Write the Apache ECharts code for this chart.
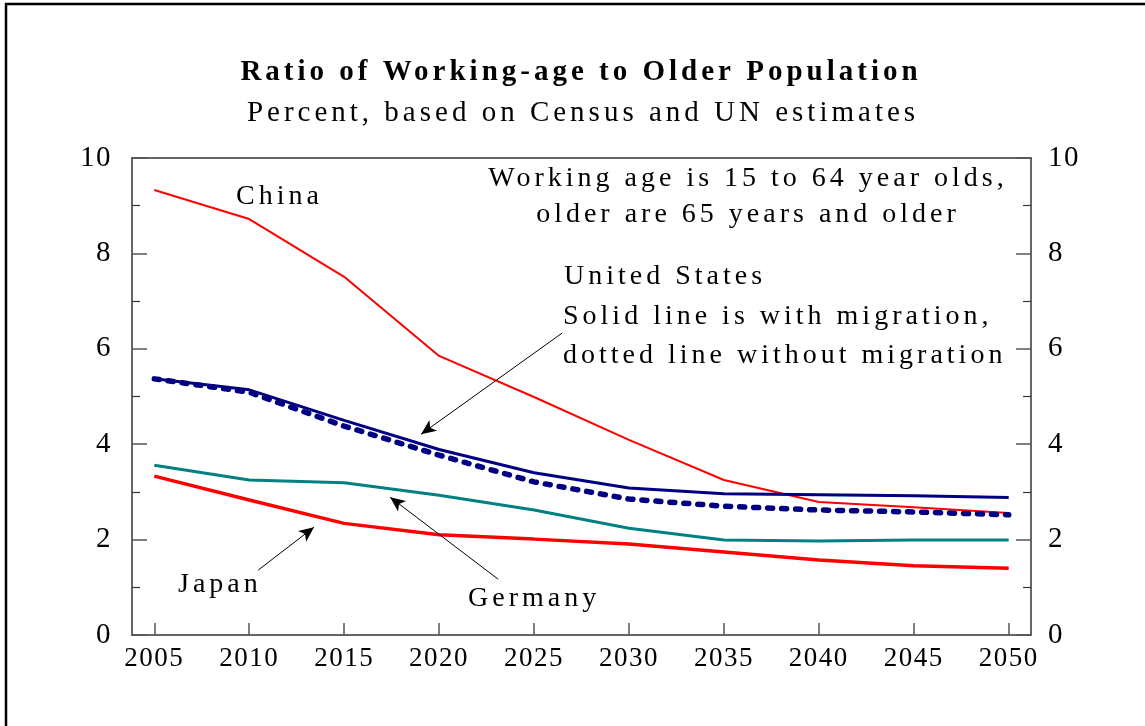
<!DOCTYPE html>
<html>
<head>
<meta charset="utf-8">
<script src="https://cdn.jsdelivr.net/npm/echarts@6/dist/echarts.min.js"></script>
<style>
  html, body { margin: 0; padding: 0; background: #fff; }
  #chart { width: 1145px; height: 726px; }
</style>
</head>
<body>
<div id="chart"></div>
<script>
// data
var years = [2005, 2010, 2015, 2020, 2025, 2030, 2035, 2040, 2045, 2050];
var china = [9.33, 8.72, 7.51, 5.85, 4.99, 4.09, 3.25, 2.79, 2.68, 2.56];
var usWithMigration = [5.37, 5.14, 4.50, 3.89, 3.40, 3.08, 2.96, 2.94, 2.92, 2.88];
var usWithoutMigration = [5.37, 5.09, 4.38, 3.77, 3.21, 2.85, 2.70, 2.62, 2.58, 2.52];
var germany = [3.56, 3.25, 3.19, 2.93, 2.62, 2.24, 1.99, 1.97, 1.99, 1.99];
var japan = [3.33, 2.83, 2.34, 2.10, 2.01, 1.91, 1.74, 1.57, 1.45, 1.40];

// arrows: [from, to] in (year, ratio)
var arrows = [
    [[2026.48, 6.33], [2019.05, 4.21]],  // United States
    [[2010.47, 1.36], [2013.41, 2.26]],  // Japan
    [[2023.11, 1.17], [2017.42, 2.89]]   // Germany
];

var serif = '"Liberation Serif", "Times New Roman", serif';

function pairs(vals) {
    return years.map(function (y, i) { return [y, vals[i]]; });
}

// annotation texts live on zlevel 1 so they get their own (wider) letter spacing
function label(text, x, y, opts) {
    opts = opts || {};
    return {
        type: 'text',
        zlevel: 1,
        x: x,
        y: y,
        silent: true,
        style: {
            text: text,
            fill: '#000',
            font: (opts.bold ? 'bold ' : '') + (opts.size || 28) + 'px ' + serif,
            textAlign: opts.align || 'left',
            textVerticalAlign: 'middle'
        }
    };
}

var chart = echarts.init(document.getElementById('chart'), null, { renderer: 'canvas' });

// the original is typeset with wide tracking
try {
    var painter = chart.getZr().painter;
    painter.getLayer(0).dom.getContext('2d').letterSpacing = '1.5px';
    painter.getLayer(1).dom.getContext('2d').letterSpacing = '4px';
} catch (e) {
    console.log('no letter spacing', e);
}

var frameAxis = {
    type: 'value', min: 0, max: 1, gridIndex: 0,
    axisLine: { show: true, onZero: false, lineStyle: { color: '#333', width: 1.5 } },
    axisTick: { show: false }, axisLabel: { show: false }, splitLine: { show: false }
};

var yFrame = function (pos, margin) {
    return {
        type: 'value', gridIndex: 0, position: pos,
        min: 0, max: 10, interval: 2,
        axisLine: { show: true, onZero: false, lineStyle: { color: '#333', width: 1.5 } },
        axisTick: { show: true, inside: true, length: 15, lineStyle: { color: '#555', width: 1.5 } },
        minorTick: { show: true, splitNumber: 2, length: 8, lineStyle: { color: '#333', width: 1.2 } },
        axisLabel: { color: '#000', fontFamily: serif, fontSize: 29, margin: margin, padding: [8, 0, 0, 0] },
        splitLine: { show: false }
    };
};

var lineSeries = function (name, vals, color, width, type) {
    return {
        name: name,
        type: 'line',
        xAxisIndex: 2,
        yAxisIndex: 2,
        data: pairs(vals),
        symbol: 'none',
        silent: true,
        lineStyle: { color: color, width: width, type: type || 'solid', cap: type ? 'round' : 'butt' }
    };
};

var option = {
    animation: false,
    backgroundColor: '#fff',
    grid: [
        { left: 132, right: 114, top: 158, bottom: 91 },
        { left: 154.3, right: 136.3, top: 158, bottom: 91 }
    ],
    xAxis: [
        Object.assign({}, frameAxis, { position: 'bottom' }),
        Object.assign({}, frameAxis, { position: 'top' }),
        {
            type: 'value', gridIndex: 1, position: 'bottom',
            min: 2005, max: 2050, interval: 5,
            axisLine: { show: false, onZero: false },
            axisTick: { show: true, inside: true, length: 12, lineStyle: { color: '#555', width: 1.5 } },
            axisLabel: {
                color: '#000', fontFamily: serif, fontSize: 27, margin: 10,
                formatter: function (v) { return String(v); }
            },
            splitLine: { show: false }
        }
    ],
    yAxis: [
        yFrame('left', 20),
        yFrame('right', 17),
        { type: 'value', gridIndex: 1, min: 0, max: 10, show: false }
    ],
    series: [
        lineSeries('Germany', germany, '#008080', 3),
        lineSeries('Japan', japan, '#ff0000', 3.5),
        lineSeries('China', china, '#ff0000', 2),
        lineSeries('United States, without migration', usWithoutMigration, '#000080', 5.5, [5, 9]),
        lineSeries('United States, with migration', usWithMigration, '#000080', 3),
        {
            type: 'line', xAxisIndex: 2, yAxisIndex: 2, data: [], silent: true,
            markLine: {
                silent: true,
                symbol: ['none', 'arrow'],
                symbolSize: [10, 15],
                label: { show: false },
                lineStyle: { color: '#000', width: 1, type: 'solid' },
                emphasis: { disabled: true },
                data: arrows.map(function (a) {
                    return [{ coord: a[0] }, { coord: a[1] }];
                })
            }
        }
    ],
    graphic: [
        {
            type: 'rect', silent: true,
            shape: { x: 6, y: 4, width: 1160, height: 760 },
            style: { fill: 'none', stroke: '#000', lineWidth: 2.5 }
        },
        label('Ratio of Working-age to Older Population', 581, 72.5, { bold: true, size: 29, align: 'center' }),
        label('Percent, based on Census and UN estimates', 583, 113, { size: 29, align: 'center' }),
        label('China', 236, 197),
        label('Working age is 15 to 64 year olds,', 748, 179, { align: 'center' }),
        label('older are 65 years and older', 748, 215, { align: 'center' }),
        label('United States', 564, 277),
        label('Solid line is with migration,', 563, 317),
        label('dotted line without migration', 563, 356),
        label('Japan', 178, 585),
        label('Germany', 468, 599)
    ]
};

chart.setOption(option);
</script>
</body>
</html>
